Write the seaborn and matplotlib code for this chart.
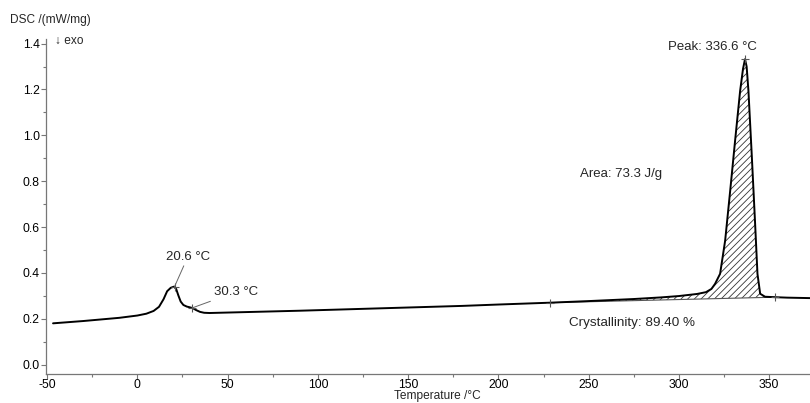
import numpy as np
import pandas as pd
import seaborn as sns
import matplotlib
matplotlib.use("Agg")
import matplotlib.pyplot as plt
from matplotlib.ticker import MultipleLocator

# ---- data ----
temperature = [-46.7, -40, -30, -20, -10, 0, 5, 9, 12, 14.5, 16.5, 18.5, 20.3, 21.5, 22.7, 24,
               25.5, 27.4, 29, 30.7, 32.5, 34.7, 37, 40, 50, 70, 90, 120, 150, 180, 200, 228.6,
               250, 275, 290, 300, 310, 315, 318, 320, 322.8, 325.6, 328.4, 331.1, 333.9, 335.5,
               336.6, 337.5, 338.5, 340.4, 342.2, 343.5, 345, 347.7, 353.3, 360, 372.5]
dsc = [0.180, 0.184, 0.190, 0.197, 0.204, 0.214, 0.222, 0.234, 0.252, 0.285, 0.320, 0.335,
       0.340, 0.330, 0.302, 0.275, 0.260, 0.253, 0.250, 0.246, 0.238, 0.230, 0.226, 0.225,
       0.227, 0.231, 0.235, 0.242, 0.249, 0.256, 0.262, 0.270, 0.277, 0.286, 0.293, 0.299,
       0.308, 0.316, 0.330, 0.352, 0.396, 0.541, 0.759, 0.976, 1.194, 1.29, 1.332, 1.30,
       1.194, 0.904, 0.614, 0.396, 0.309, 0.296, 0.294, 0.292, 0.290]

baseline_T = [228.6, 353.3]
baseline_v = [0.270, 0.294]

marker_T = [20.6, 30.3, 336.6, 228.6, 353.3]
marker_v = [0.340, 0.247, 1.332, 0.270, 0.294]

x_ticks = [-50, 0, 50, 100, 150, 200, 250, 300, 350]
y_ticks = [0.0, 0.2, 0.4, 0.6, 0.8, 1.0, 1.2, 1.4]

df = pd.DataFrame({"T": temperature, "DSC": dsc})

sns.set_theme(style="ticks")
plt.rcParams["font.family"] = ["Liberation Sans", "DejaVu Sans"]

fig = plt.figure(figsize=(8.1, 4.03), dpi=100)
ax = fig.add_axes([46 / 810, 1 - 374 / 403, 764 / 810, (374 - 39) / 403])

T = np.array(temperature)
V = np.array(dsc)
base = np.interp(T, baseline_T, baseline_v)
mask = (T >= baseline_T[0]) & (T <= baseline_T[1])
plt.rcParams["hatch.linewidth"] = 0.6
ax.fill_between(T, V, base, where=mask, facecolor="none", edgecolor="#333333",
                hatch="/////", linewidth=0, interpolate=True)
ax.plot(baseline_T, baseline_v, color="#555555", lw=0.8)

sns.lineplot(data=df, x="T", y="DSC", ax=ax, color="black", lw=1.4, sort=False)
ax.plot(marker_T, marker_v, ls="none", marker="+", color="#555555", ms=6, mew=0.8)

ax.set_xlim(-50.6, 372.6)
ax.set_ylim(-0.041, 1.42)
ax.set_xticks(x_ticks)
ax.set_xticklabels([str(t) for t in x_ticks])
ax.set_yticks(y_ticks)
ax.set_yticklabels([f"{t:.1f}" for t in y_ticks])
ax.xaxis.set_minor_locator(MultipleLocator(25))
ax.yaxis.set_minor_locator(MultipleLocator(0.1))
ax.tick_params(which="major", direction="out", length=3.5, width=0.8, color="#777777",
               labelsize=8.8, labelcolor="black")
ax.tick_params(axis="x", which="major", pad=0.3)
ax.tick_params(axis="y", which="major", pad=1)
ax.tick_params(which="minor", direction="out", length=2, width=0.8, color="#777777")
for s in ["top", "right"]:
    ax.spines[s].set_visible(False)
for s in ["left", "bottom"]:
    ax.spines[s].set_color("#777777")
    ax.spines[s].set_linewidth(0.9)

ax.set_xlabel("")
ax.set_ylabel("")
fig.text(437 / 810, 1 - 396.5 / 403, "Temperature /°C", fontsize=8.6, va="center", ha="center")
fig.text(10 / 810, 1 - 20 / 403, "DSC /(mW/mg)", fontsize=8.6, va="center", ha="left")
ax.text(-45.8, 1.41, "↓ exo", fontsize=8.6, va="center", ha="left")

# annotations
ax.annotate("20.6 °C", xy=(20.6, 0.340), xytext=(28, 0.445), fontsize=9.5,
            ha="center", va="bottom",
            arrowprops=dict(arrowstyle="-", color="#666666", lw=0.7, shrinkA=0, shrinkB=0))
ax.annotate("30.3 °C", xy=(30.3, 0.247), xytext=(54.5, 0.29), fontsize=9.5,
            ha="center", va="bottom",
            arrowprops=dict(arrowstyle="-", color="#666666", lw=0.7, shrinkA=0, shrinkB=0))
ax.text(318.5, 1.36, "Peak: 336.6 °C", fontsize=9.5, ha="center", va="bottom")
ax.text(245, 0.83, "Area: 73.3 J/g", fontsize=9.5, ha="left", va="center")
ax.text(239, 0.18, "Crystallinity: 89.40 %", fontsize=9.7, ha="left", va="center")

fig.savefig("out.png", dpi=100)
